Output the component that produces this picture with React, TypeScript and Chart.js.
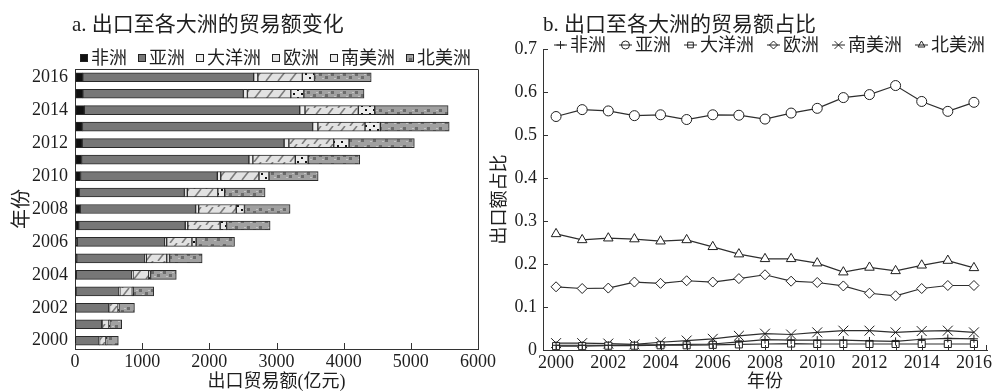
import React, { useEffect, useRef } from 'react';
import { Chart, registerables } from 'chart.js';
Chart.register(...registerables);

// ---------- data ----------
const years = ['2000', '2001', '2002', '2003', '2004', '2005', '2006', '2007', '2008', '2009', '2010', '2011', '2012', '2013', '2014', '2015', '2016'];
const continentNames = ['非洲', '亚洲', '大洋洲', '欧洲', '南美洲', '北美洲'];

// a. export value (亿元)
const africaExport = [7, 8, 10, 14, 18, 25, 33, 55, 77, 65, 83, 98, 106, 111, 139, 116, 115];
const asiaExport = [352, 391, 494, 641, 828, 1015, 1303, 1586, 1719, 1564, 2036, 2491, 3007, 3427, 3207, 2391, 2545];
const oceaniaExport = [6, 6, 9, 12, 17, 21, 29, 38, 45, 43, 51, 59, 71, 78, 78, 60, 62];
const europeExport = [95, 100, 128, 186, 235, 305, 376, 482, 560, 454, 569, 632, 668, 702, 794, 646, 663];
const southAmericaExport = [10, 11, 13, 15, 27, 42, 62, 96, 122, 102, 149, 191, 228, 228, 244, 194, 181];
const northAmericaExport = [175, 179, 231, 303, 383, 485, 572, 648, 679, 602, 732, 768, 972, 1025, 1093, 896, 844];

// b. share of exports
const africaShare = [0.011, 0.011, 0.011, 0.012, 0.012, 0.013, 0.014, 0.019, 0.024, 0.023, 0.023, 0.023, 0.021, 0.020, 0.025, 0.027, 0.026];
const asiaShare = [0.543, 0.559, 0.556, 0.545, 0.547, 0.536, 0.547, 0.546, 0.537, 0.551, 0.562, 0.587, 0.594, 0.615, 0.578, 0.555, 0.576];
const oceaniaShare = [0.009, 0.009, 0.010, 0.010, 0.011, 0.011, 0.012, 0.013, 0.014, 0.015, 0.014, 0.014, 0.014, 0.014, 0.014, 0.014, 0.014];
const europeShare = [0.147, 0.143, 0.144, 0.158, 0.155, 0.161, 0.158, 0.166, 0.175, 0.160, 0.157, 0.149, 0.132, 0.126, 0.143, 0.150, 0.150];
const southAmericaShare = [0.016, 0.016, 0.015, 0.013, 0.018, 0.022, 0.026, 0.033, 0.038, 0.036, 0.041, 0.045, 0.045, 0.041, 0.044, 0.045, 0.041];
const northAmericaShare = [0.270, 0.256, 0.260, 0.258, 0.253, 0.256, 0.240, 0.223, 0.212, 0.212, 0.202, 0.181, 0.192, 0.184, 0.197, 0.208, 0.191];

const leftTitle = 'a. 出口至各大洲的贸易额变化';
const rightTitle = 'b. 出口至各大洲的贸易额占比';
const leftXTitle = '出口贸易额(亿元)';
const yearTitle = '年份';
const shareTitle = '出口额占比';

const FONT = '"Liberation Serif", "Noto Sans CJK SC", serif';
const TEXT = '#1e1e1e';
const LINE = '#333333';

function makePattern(w: number, h: number, draw: (c: CanvasRenderingContext2D) => void): CanvasPattern | string {
  const cv = document.createElement('canvas');
  cv.width = w;
  cv.height = h;
  const c = cv.getContext('2d');
  if (!c) return '#999';
  draw(c);
  return c.createPattern(cv, 'repeat') || '#999';
}

function buildFills() {
  const africa = '#111111';
  const asia = '#777777';
  const oceania = '#efefef';
  const europe = makePattern(12, 9, (c) => {
    c.fillStyle = '#e2e2e2';
    c.fillRect(0, 0, 12, 9);
    c.strokeStyle = '#7c7c7c';
    c.lineWidth = 1.6;
    c.beginPath();
    c.moveTo(2, 9);
    c.lineTo(9, 0);
    c.stroke();
  });
  const southAmerica = makePattern(8, 8, (c) => {
    c.fillStyle = '#ececec';
    c.fillRect(0, 0, 8, 8);
    c.fillStyle = '#111';
    c.fillRect(1, 1, 2, 2);
    c.fillRect(5, 5, 2, 2);
  });
  const northAmerica = makePattern(12, 9, (c) => {
    c.fillStyle = '#a0a0a0';
    c.fillRect(0, 0, 12, 9);
    c.fillStyle = '#6c6c6c';
    c.fillRect(1, 4, 3, 3);
    c.fillRect(7, 1, 3, 3);
    c.fillStyle = '#c4c4c4';
    c.fillRect(4, 2, 2, 1);
    c.fillRect(10, 6, 2, 1);
  });
  return [africa, asia, oceania, europe, southAmerica, northAmerica];
}

type Marker = 'cross' | 'circle' | 'rect' | 'rectRot' | 'crossRot' | 'triangle';
const markerStyles: Marker[] = ['cross', 'circle', 'rect', 'rectRot', 'crossRot', 'triangle'];
const markerRadius = [4, 5, 5, 5, 7, 5.5];

function drawMarker(ctx: CanvasRenderingContext2D, style: Marker, x: number, y: number, r: number) {
  ctx.beginPath();
  switch (style) {
    case 'cross':
      ctx.moveTo(x - r, y);
      ctx.lineTo(x + r, y);
      ctx.moveTo(x, y - r);
      ctx.lineTo(x, y + r);
      break;
    case 'crossRot': {
      const d = r * Math.SQRT1_2;
      ctx.moveTo(x - d, y - d);
      ctx.lineTo(x + d, y + d);
      ctx.moveTo(x + d, y - d);
      ctx.lineTo(x - d, y + d);
      break;
    }
    case 'circle':
      ctx.arc(x, y, r, 0, Math.PI * 2);
      break;
    case 'rect': {
      const s = r * Math.SQRT1_2;
      ctx.rect(x - s, y - s, 2 * s, 2 * s);
      break;
    }
    case 'rectRot':
      ctx.moveTo(x, y - r);
      ctx.lineTo(x + r, y);
      ctx.lineTo(x, y + r);
      ctx.lineTo(x - r, y);
      ctx.closePath();
      break;
    case 'triangle':
      ctx.moveTo(x, y - r);
      ctx.lineTo(x + r * 0.866, y + r * 0.5);
      ctx.lineTo(x - r * 0.866, y + r * 0.5);
      ctx.closePath();
      break;
  }
  ctx.stroke();
}

export default function App() {
  const leftRef = useRef<HTMLCanvasElement | null>(null);
  const rightRef = useRef<HTMLCanvasElement | null>(null);

  useEffect(() => {
    if (!leftRef.current || !rightRef.current) return;
    const fills = buildFills();
    const exportSeries = [africaExport, asiaExport, oceaniaExport, europeExport, southAmericaExport, northAmericaExport];
    const shareSeries = [africaShare, asiaShare, oceaniaShare, europeShare, southAmericaShare, northAmericaShare];

    const leftDecor = {
      id: 'leftDecor',
      afterDraw(chart: any) {
        const { ctx, chartArea: a } = chart;
        const xs = chart.scales.x;
        ctx.save();
        ctx.strokeStyle = LINE;
        ctx.lineWidth = 1;
        ctx.beginPath();
        ctx.moveTo(a.left, Math.round(a.top) + 0.5);
        ctx.lineTo(Math.round(a.right) + 0.5, Math.round(a.top) + 0.5);
        ctx.lineTo(Math.round(a.right) + 0.5, a.bottom);
        xs.ticks.forEach((t: any) => {
          const px = Math.round(xs.getPixelForValue(t.value)) + 0.5;
          ctx.moveTo(px, a.bottom);
          ctx.lineTo(px, a.bottom - 6);
        });
        ctx.stroke();

        ctx.fillStyle = TEXT;
        ctx.textBaseline = 'middle';
        ctx.textAlign = 'left';
        ctx.font = `21px ${FONT}`;
        ctx.fillText(leftTitle, 72, 25);

        ctx.font = `18px ${FONT}`;
        let x = 80;
        const y = 58;
        continentNames.forEach((name, i) => {
          ctx.fillStyle = fills[i] as any;
          ctx.fillRect(x, y - 4, 8, 8);
          ctx.strokeStyle = '#222';
          ctx.strokeRect(x + 0.5, y - 3.5, 7, 7);
          x += 11;
          ctx.fillStyle = TEXT;
          ctx.fillText(name, x, y + 1);
          x += ctx.measureText(name).width + 11;
        });
        ctx.restore();
      },
    };

    const rightDecor = {
      id: 'rightDecor',
      afterDraw(chart: any) {
        const { ctx, chartArea: a } = chart;
        const xs = chart.scales.x;
        const ys = chart.scales.y;
        ctx.save();
        ctx.strokeStyle = LINE;
        ctx.lineWidth = 1;
        ctx.beginPath();
        ys.ticks.forEach((t: any) => {
          const py = Math.round(ys.getPixelForValue(t.value)) + 0.5;
          ctx.moveTo(a.left, py);
          ctx.lineTo(a.left + 5, py);
        });
        years.forEach((_, i) => {
          const px = Math.round(xs.getPixelForValue(i)) + 0.5;
          ctx.moveTo(px, a.bottom);
          ctx.lineTo(px, a.bottom - 5);
        });
        ctx.moveTo(Math.round(a.right) - 0.5, a.bottom);
        ctx.lineTo(Math.round(a.right) - 0.5, a.bottom - 5);
        ctx.stroke();

        ctx.fillStyle = TEXT;
        ctx.textBaseline = 'middle';
        ctx.textAlign = 'left';
        ctx.font = `21px ${FONT}`;
        ctx.fillText(rightTitle, 55, 25);

        ctx.font = `18px ${FONT}`;
        let x = 66;
        const y = 45;
        continentNames.forEach((name, i) => {
          ctx.strokeStyle = '#222';
          ctx.lineWidth = 1;
          ctx.beginPath();
          ctx.moveTo(x, y);
          ctx.lineTo(x + 13, y);
          ctx.stroke();
          drawMarker(ctx, markerStyles[i], x + 6.5, y, i === 4 ? 5.5 : 4);
          x += 16;
          ctx.fillStyle = TEXT;
          ctx.fillText(name, x, y + 1);
          x += ctx.measureText(name).width + 13;
        });
        ctx.restore();
      },
    };

    const axisGrid = { display: true, drawOnChartArea: false, drawTicks: false };
    const axisBorder = { display: true, color: LINE, width: 1 };

    const left = new Chart(leftRef.current, {
      type: 'bar',
      data: {
        labels: years,
        datasets: continentNames.map((name, i) => ({
          label: name,
          data: exportSeries[i],
          backgroundColor: fills[i] as any,
          borderColor: '#2a2a2a',
          borderWidth: 1,
          borderSkipped: false,
          barThickness: 9,
        })),
      },
      options: {
        indexAxis: 'y',
        responsive: false,
        animation: false,
        events: [],
        layout: { padding: { top: 69, right: 22, bottom: 0, left: 0 } },
        plugins: { legend: { display: false }, title: { display: false }, tooltip: { enabled: false } },
        scales: {
          x: {
            stacked: true,
            min: 0,
            max: 6000,
            ticks: {
              stepSize: 1000,
              color: TEXT,
              font: { family: FONT, size: 18 },
              padding: 2,
              maxRotation: 0,
              callback: (v: any) => String(v),
            },
            grid: axisGrid,
            border: axisBorder,
            title: { display: true, text: leftXTitle, color: TEXT, font: { family: FONT, size: 18, lineHeight: 1 }, padding: { top: 0, bottom: 1 } },
            afterFit: (s: any) => { s.height = 43; },
          },
          y: {
            stacked: true,
            reverse: true,
            ticks: {
              autoSkip: false,
              color: TEXT,
              font: { family: FONT, size: 18 },
              padding: 7,
              callback: (v: any) => (Number(years[v]) % 2 === 0 ? years[v] : ''),
            },
            grid: axisGrid,
            border: axisBorder,
            title: { display: true, text: yearTitle, color: TEXT, font: { family: FONT, size: 20, lineHeight: 1 }, padding: { top: 13, bottom: 0 } },
            afterFit: (s: any) => { s.width = 75; },
          },
        },
      } as any,
      plugins: [leftDecor],
    });

    const right = new Chart(rightRef.current, {
      type: 'line',
      data: {
        labels: years,
        datasets: continentNames.map((name, i) => ({
          label: name,
          data: shareSeries[i],
          borderColor: '#2e2e2e',
          borderWidth: 1.2,
          pointStyle: markerStyles[i],
          pointRadius: markerRadius[i],
          pointBackgroundColor: '#ffffff',
          pointBorderColor: '#1e1e1e',
          pointBorderWidth: 1,
          fill: false,
          tension: 0,
        })),
      },
      options: {
        responsive: false,
        animation: false,
        events: [],
        layout: { padding: { top: 49, right: 5, bottom: 0, left: 0 } },
        plugins: { legend: { display: false }, title: { display: false }, tooltip: { enabled: false } },
        scales: {
          x: {
            offset: true,
            ticks: {
              autoSkip: false,
              maxRotation: 0,
              color: TEXT,
              font: { family: FONT, size: 18 },
              padding: 2,
              callback: (v: any) => (Number(years[v]) % 2 === 0 ? years[v] : ''),
            },
            grid: { ...axisGrid, offset: false },
            border: axisBorder,
            title: { display: true, text: yearTitle, color: TEXT, font: { family: FONT, size: 18, lineHeight: 1 }, padding: { top: 0, bottom: 1 } },
            afterFit: (s: any) => { s.height = 42; },
          },
          y: {
            min: 0,
            max: 0.7,
            ticks: {
              stepSize: 0.1,
              color: TEXT,
              font: { family: FONT, size: 18 },
              padding: 6,
              callback: (v: any) => String(Number(Number(v).toFixed(1))),
            },
            grid: axisGrid,
            border: axisBorder,
            title: { display: true, text: shareTitle, color: TEXT, font: { family: FONT, size: 18, lineHeight: 1 }, padding: { top: 3, bottom: 0 } },
            afterFit: (s: any) => { s.width = 55; },
          },
        },
      } as any,
      plugins: [rightDecor],
    });

    return () => {
      left.destroy();
      right.destroy();
    };
  }, []);

  return (
    <div style={{ position: 'absolute', left: 0, top: 0, width: 995, height: 392, background: '#fff' }}>
      <canvas ref={leftRef} width={500} height={392} style={{ position: 'absolute', left: 0, top: 0, width: 500, height: 392 }} />
      <canvas ref={rightRef} width={507} height={392} style={{ position: 'absolute', left: 488, top: 0, width: 507, height: 392 }} />
    </div>
  );
}
